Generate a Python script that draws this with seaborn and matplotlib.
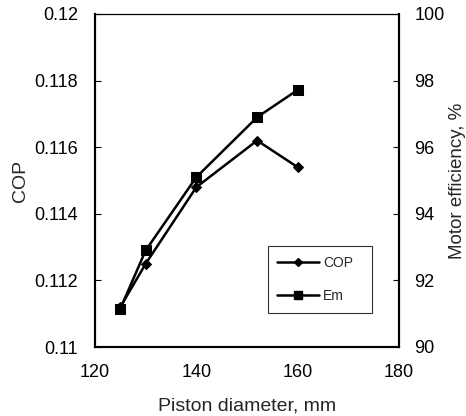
import matplotlib
matplotlib.use("Agg")
import matplotlib.pyplot as plt
import seaborn as sns
import pandas as pd
from matplotlib.lines import Line2D

diameter = [125, 130, 140, 152, 160]
cop = [0.1112, 0.1125, 0.1148, 0.1162, 0.1154]
em = [91.15, 92.9, 95.1, 96.9, 97.72]

sns.set_style("white")
plt.rcParams['font.family'] = ['Liberation Sans', 'DejaVu Sans']
plt.rcParams['font.size'] = 13

df = pd.DataFrame({"d": diameter, "COP": cop, "Em": em})

fig = plt.figure(figsize=(4.66, 4.16), dpi=100)
ax = fig.add_axes([95/466, 1 - 347/416, (399-95)/466, (347-14)/416])
ax2 = ax.twinx()

sns.lineplot(data=df, x="d", y="COP", ax=ax, color="black", lw=1.8,
             marker="D", markersize=5, markeredgecolor="black", legend=False)
sns.lineplot(data=df, x="d", y="Em", ax=ax2, color="black", lw=1.8,
             marker="s", markersize=7, markeredgecolor="black", legend=False)

ax.set_xlim(120, 180)
ax.set_ylim(0.11, 0.12)
ax2.set_ylim(90, 100)
ax.set_xticks([120, 140, 160, 180])
ax.set_yticks([0.11, 0.112, 0.114, 0.116, 0.118, 0.12])
ax.set_yticklabels(["0.11", "0.112", "0.114", "0.116", "0.118", "0.12"])
ax2.set_yticks([90, 92, 94, 96, 98, 100])

ax.set_xlabel("Piston diameter, mm", fontsize=14, labelpad=12)
ax.set_ylabel("COP", fontsize=14, labelpad=4)
ax2.set_ylabel("Motor efficiency, %", fontsize=13.5, labelpad=3)

for a in (ax, ax2):
    for s in a.spines.values():
        s.set_color("black")
        s.set_linewidth(1.5)
    a.spines["top"].set_linewidth(0.8)
ax.tick_params(axis="y", direction="in", length=4, width=0.8, colors="black",
               labelsize=13, pad=12)
ax.tick_params(axis="x", direction="in", length=4, width=0.8, colors="black",
               labelsize=13, pad=12)
ax2.tick_params(axis="y", direction="in", length=4, width=0.8, colors="black",
                labelsize=13, pad=11)

handles = [
    Line2D([], [], color="black", lw=1.8, marker="D", markersize=4),
    Line2D([], [], color="black", lw=1.8, marker="s", markersize=6),
]
x0 = (267.7 - 95) / 304
y0 = (347 - 312.7) / 333
w = (372.3 - 267.7) / 304
h = (312.7 - 246) / 333
leg = ax.legend(handles, ["COP", "Em"], loc="upper left",
                bbox_to_anchor=(x0, y0, w, h), mode="expand", borderaxespad=0,
                frameon=True, fancybox=False, handlelength=3.0,
                handletextpad=0.27, borderpad=0.7, labelspacing=1.4, fontsize=10)
leg.get_frame().set_edgecolor("black")
leg.get_frame().set_linewidth(0.8)

fig.savefig("out.png", dpi=100)
